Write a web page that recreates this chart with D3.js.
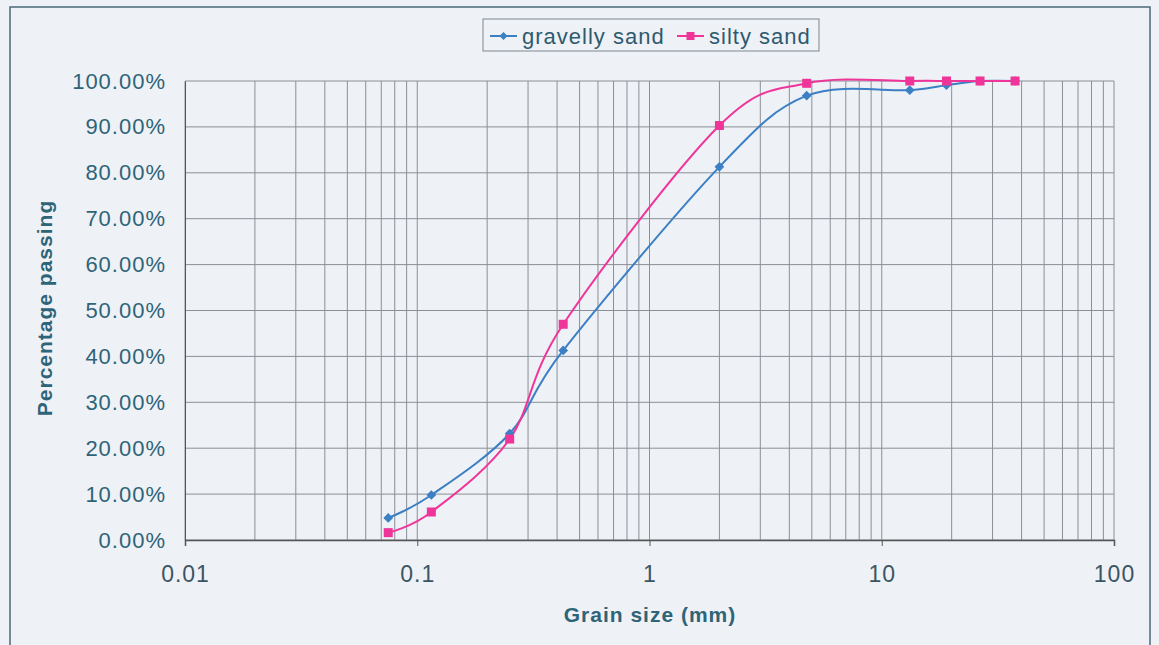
<!DOCTYPE html>
<html lang="en">
<head>
<meta charset="utf-8">
<title>Grain size distribution</title>
<script src="https://d3js.org/d3.v7.min.js"></script>
<style>
  body { margin: 0; background: #eef1f6; }
  text { font-family: "Liberation Sans", Arial, sans-serif; letter-spacing: 1px; }
</style>
</head>
<body>
<script>
// sieve sizes (mm) and percentage passing
var sizes = [0.075, 0.115, 0.25, 0.425, 2, 4.75, 13.2, 19, 26.5, 37.5];
var gravellySand = [4.8, 9.8, 23.2, 41.3, 81.3, 96.8, 98.0, 99.1, 100, 100];
var siltySand = [1.6, 6.1, 22.0, 47.0, 90.3, 99.5, 100, 100, 100, 100];
var seriesNames = ["gravelly sand", "silty sand"];
var xTicks = [0.01, 0.1, 1, 10, 100];
var yTicks = [0, 10, 20, 30, 40, 50, 60, 70, 80, 90, 100];

var width = 1159, height = 645;
var plotLeft = 185, plotRight = 1114, plotTop = 81, plotBottom = 540;

var svg = d3.select("body").append("svg")
    .attr("width", width)
    .attr("height", height);

svg.append("rect")
    .attr("x", 10).attr("y", 7)
    .attr("width", 1140).attr("height", 650)
    .attr("fill", "#eef1f6")
    .attr("stroke", "#4a6a78")
    .attr("stroke-width", 1.5);

var x = d3.scaleLog().domain([0.01, 100]).range([plotLeft, plotRight]);
var y = d3.scaleLinear().domain([0, 100]).range([plotBottom, plotTop]);

// vertical grid: every log minor step
var minor = [];
for (var p = -2; p < 2; p++) {
  for (var k = 1; k < 10; k++) minor.push(k * Math.pow(10, p));
}
minor.push(100);

var grid = svg.append("g").attr("stroke", "#8a8f98").attr("stroke-width", 1);
grid.selectAll(".vx").data(minor).enter().append("line")
    .attr("x1", function(d) { return x(d); })
    .attr("x2", function(d) { return x(d); })
    .attr("y1", plotTop).attr("y2", plotBottom);
grid.selectAll(".hy").data(yTicks).enter().append("line")
    .attr("x1", plotLeft).attr("x2", plotRight)
    .attr("y1", function(d) { return y(d); })
    .attr("y2", function(d) { return y(d); });

// x axis
var xAxis = svg.append("g")
    .attr("transform", "translate(0," + plotBottom + ")")
    .call(d3.axisBottom(x).tickValues(xTicks).tickSize(6).tickPadding(20)
      .tickFormat(function(d) { return String(d); }));
xAxis.select(".domain").attr("stroke", "#555").attr("stroke-width", 1.5);
xAxis.selectAll("line").attr("stroke", "#555");
xAxis.selectAll("text").attr("font-size", 23).attr("fill", "#3b5563");

// y axis
var yAxis = svg.append("g")
    .attr("transform", "translate(" + plotLeft + ",0)")
    .call(d3.axisLeft(y).tickValues(yTicks).tickSize(0).tickPadding(19)
      .tickFormat(function(d) { return d.toFixed(2) + "%"; }));
yAxis.select(".domain").attr("stroke", "#555");
yAxis.selectAll("text").attr("font-size", 22).attr("fill", "#2e6477");

// axis titles
svg.append("text")
    .attr("x", 650).attr("y", 622)
    .attr("text-anchor", "middle")
    .attr("font-size", 21).attr("font-weight", "bold")
    .attr("fill", "#2e6477")
    .text("Grain size (mm)");

svg.append("text")
    .attr("transform", "translate(52,308) rotate(-90)")
    .attr("text-anchor", "middle")
    .attr("font-size", 21).attr("font-weight", "bold")
    .attr("fill", "#2e6477")
    .text("Percentage passing");

var colors = ["#3b7fc4", "#f0359a"];
var allSeries = [gravellySand, siltySand];

var line = d3.line()
    .x(function(d, i) { return x(sizes[i]); })
    .y(function(d) { return y(d); })
    .curve(d3.curveCardinal.tension(0));

allSeries.forEach(function(vals, s) {
  svg.append("path")
      .datum(vals)
      .attr("fill", "none")
      .attr("stroke", colors[s])
      .attr("stroke-width", 2)
      .attr("d", line);
});

// markers
svg.selectAll(".dia").data(gravellySand).enter().append("path")
    .attr("d", d3.symbol().type(d3.symbolDiamond2).size(60))
    .attr("transform", function(d, i) { return "translate(" + x(sizes[i]) + "," + y(d) + ")"; })
    .attr("fill", colors[0]);
svg.selectAll(".sq").data(siltySand).enter().append("rect")
    .attr("x", function(d, i) { return x(sizes[i]) - 4.5; })
    .attr("y", function(d) { return y(d) - 4.5; })
    .attr("width", 9).attr("height", 9)
    .attr("fill", colors[1]);

// legend
var lg = svg.append("g").attr("transform", "translate(483,19)");
lg.append("rect")
    .attr("width", 336).attr("height", 32)
    .attr("fill", "#eef1f6")
    .attr("stroke", "#7d8790");
var legendOffsets = [7, 194];
seriesNames.forEach(function(name, s) {
  var g = lg.append("g").attr("transform", "translate(" + legendOffsets[s] + ",17)");
  g.append("line").attr("x1", 0).attr("x2", 27)
      .attr("stroke", colors[s]).attr("stroke-width", 2);
  if (s === 0) {
    g.append("path").attr("d", d3.symbol().type(d3.symbolDiamond2).size(40))
        .attr("transform", "translate(13.5,0)").attr("fill", colors[s]);
  } else {
    g.append("rect").attr("x", 9.5).attr("y", -4).attr("width", 8).attr("height", 8)
        .attr("fill", colors[s]);
  }
  g.append("text")
      .attr("x", 32).attr("y", 8)
      .attr("font-size", 22).attr("fill", "#2e5a6e")
      .text(name);
});
</script>
</body>
</html>
